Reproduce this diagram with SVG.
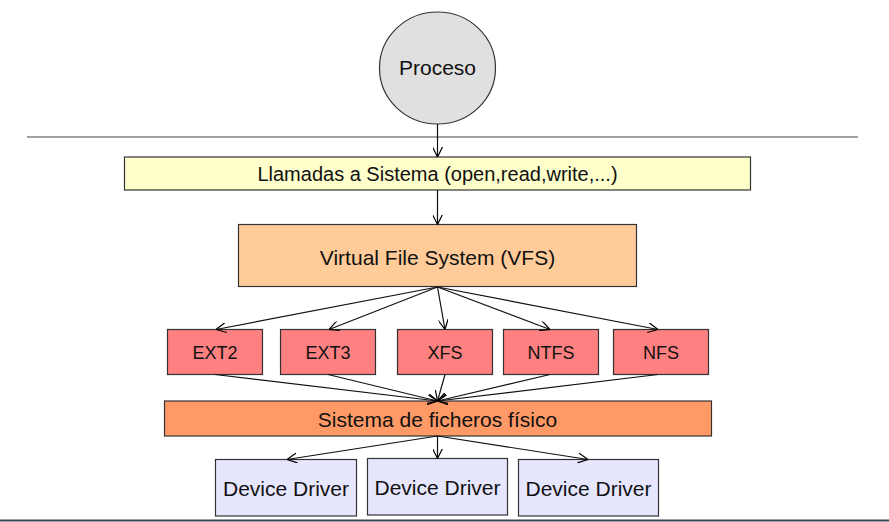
<svg xmlns="http://www.w3.org/2000/svg" width="889" height="522" viewBox="0 0 889 522">
<defs>
<marker id="arr" viewBox="0 0 10 10" refX="10" refY="5" markerWidth="10" markerHeight="10" markerUnits="userSpaceOnUse" orient="auto">
<path d="M0,0 L10,5 L0,10" fill="none" stroke="#000" stroke-width="1.2"/>
</marker>
<style>
text{font-family:"Liberation Sans",Arial,sans-serif;fill:#111;text-anchor:middle}
.box{stroke:#333;stroke-width:1.2}
.c{stroke:#111;stroke-width:1.2;fill:none;marker-end:url(#arr)}
.fs{fill:#ff8080}
.dd{fill:#e6e6ff}
</style>
</defs>
<rect width="889" height="522" fill="#fff"/>
<line x1="27" y1="137" x2="858" y2="137" stroke="#444" stroke-width="1.2"/>
<line x1="0" y1="520.5" x2="889" y2="520.5" stroke="#3a4450" stroke-width="2"/>
<g id="proceso">
<ellipse cx="437.5" cy="68" rx="58" ry="56" fill="#e0e0e0" class="box"/>
<text x="437.5" y="75" font-size="21">Proceso</text>
</g>
<g id="llamadas">
<rect x="124.5" y="157" width="626" height="33" fill="#ffffcc" class="box"/>
<text x="437.5" y="181" font-size="20">Llamadas a Sistema (open,read,write,...)</text>
</g>
<g id="vfs">
<rect x="238.5" y="224.5" width="398" height="62" fill="#ffcc99" class="box"/>
<text x="437.5" y="265" font-size="21">Virtual File System (VFS)</text>
</g>
<g id="ext2"><rect x="167.5" y="329.5" width="95" height="45" class="box fs"/><text x="215" y="359" font-size="18">EXT2</text></g>
<g id="ext3"><rect x="280.5" y="329.5" width="95" height="45" class="box fs"/><text x="328" y="359" font-size="18">EXT3</text></g>
<g id="xfs"><rect x="397.5" y="329.5" width="95" height="45" class="box fs"/><text x="445" y="359" font-size="18">XFS</text></g>
<g id="ntfs"><rect x="503.5" y="329.5" width="95" height="45" class="box fs"/><text x="551" y="359" font-size="18">NTFS</text></g>
<g id="nfs"><rect x="613.5" y="329.5" width="95" height="45" class="box fs"/><text x="661" y="359" font-size="18">NFS</text></g>
<g id="fisico">
<rect x="164.5" y="401" width="547" height="35" fill="#ff9966" class="box"/>
<text x="437.5" y="427" font-size="21">Sistema de ficheros físico</text>
</g>
<g id="dd1"><rect x="215.5" y="459.5" width="141" height="56.5" class="box dd"/><text x="286" y="495.5" font-size="21">Device Driver</text></g>
<g id="dd2"><rect x="367.5" y="458.5" width="140" height="56.5" class="box dd"/><text x="437.5" y="494.5" font-size="21">Device Driver</text></g>
<g id="dd3"><rect x="518.5" y="459.5" width="140" height="56.5" class="box dd"/><text x="588.5" y="495.5" font-size="21">Device Driver</text></g>
<g id="connectors">
<line class="c" x1="437.5" y1="124" x2="437.5" y2="157"/>
<line class="c" x1="437.5" y1="190" x2="437.5" y2="224.5"/>
<line class="c" x1="437.5" y1="287" x2="216" y2="329.5"/>
<line class="c" x1="437.5" y1="287" x2="329" y2="329.5"/>
<line class="c" x1="437.5" y1="287" x2="445" y2="329.5"/>
<line class="c" x1="437.5" y1="287" x2="550" y2="329.5"/>
<line class="c" x1="437.5" y1="287" x2="658" y2="329.5"/>
<line class="c" x1="215" y1="374.5" x2="437.5" y2="401"/>
<line class="c" x1="328" y1="374.5" x2="437.5" y2="401"/>
<line class="c" x1="445" y1="374.5" x2="437.5" y2="401"/>
<line class="c" x1="550" y1="374.5" x2="437.5" y2="401"/>
<line class="c" x1="658" y1="374.5" x2="437.5" y2="401"/>
<line class="c" x1="437.5" y1="436" x2="287" y2="459.5"/>
<line class="c" x1="437.5" y1="436" x2="437.5" y2="458.5"/>
<line class="c" x1="437.5" y1="436" x2="588" y2="459.5"/>
</g>
</svg>
